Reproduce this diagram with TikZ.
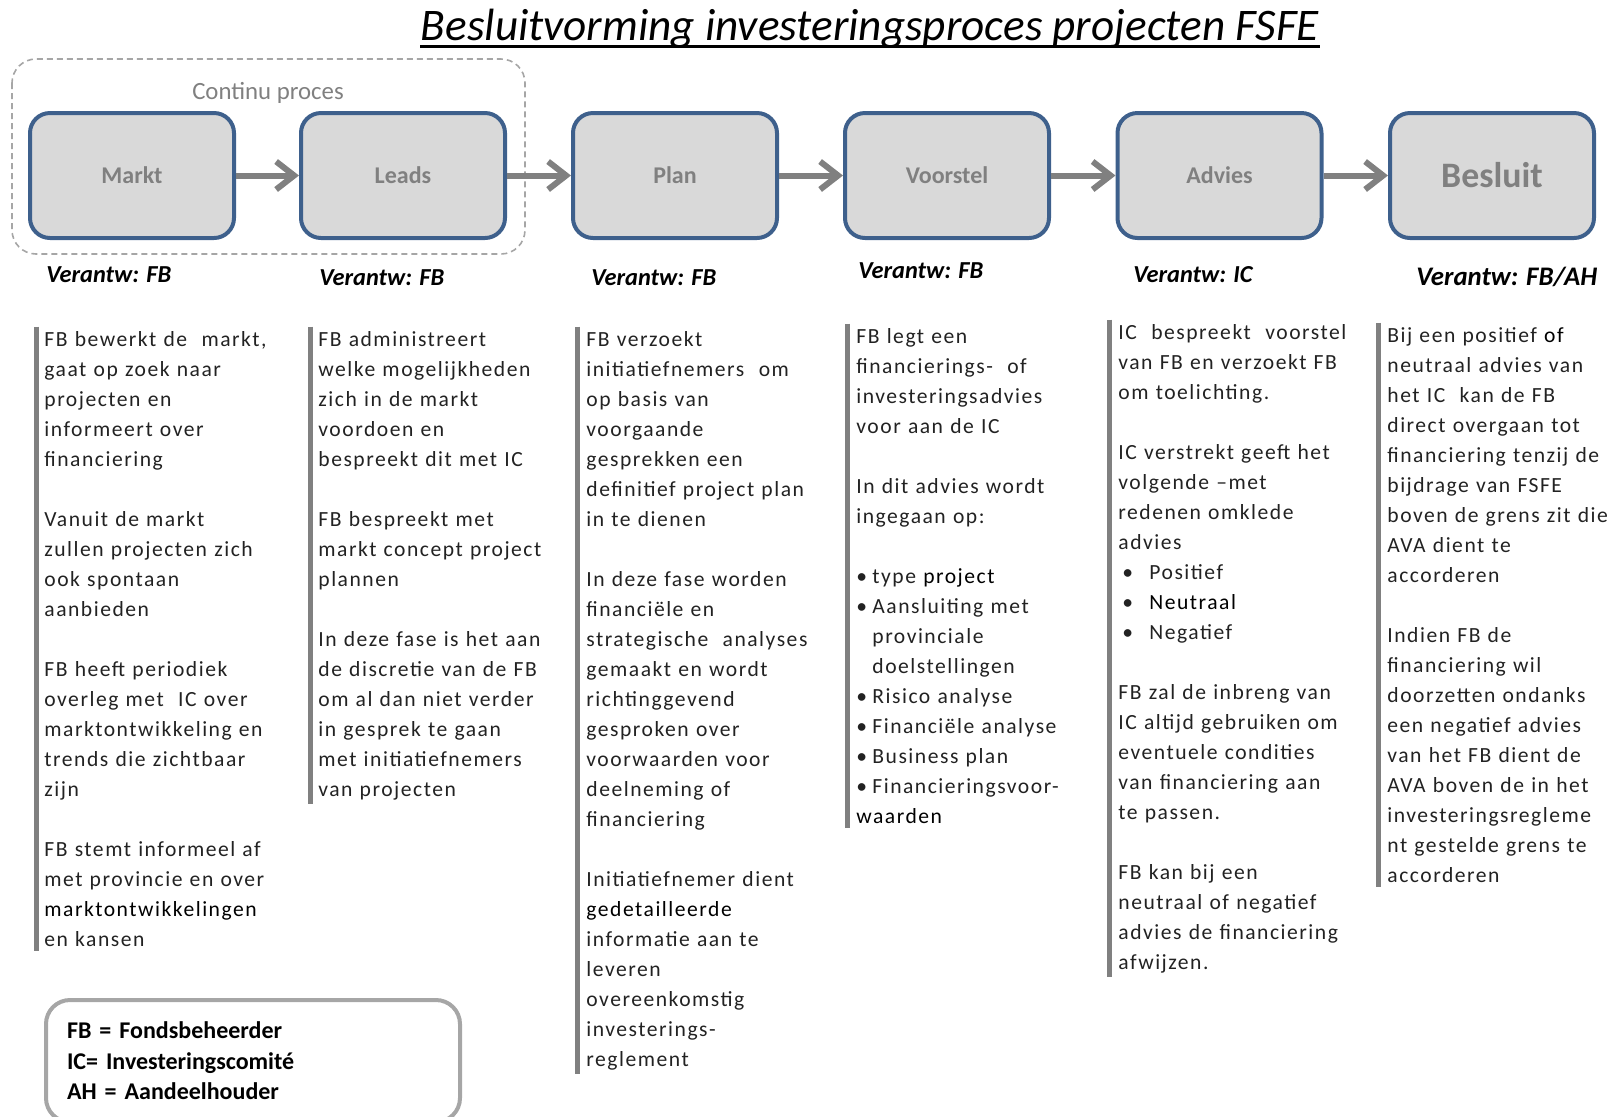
\documentclass[tikz,border=0pt]{standalone}
\usepackage{fontspec}
\setmainfont{Carlito}
\newfontfamily\bodyfont[LetterSpace=7]{Carlito}
\usetikzlibrary{arrows.meta}

\definecolor{boxfill}{RGB}{217,217,217}
\definecolor{boxline}{RGB}{62,96,140}
\definecolor{boxtext}{RGB}{128,128,128}
\definecolor{flowgray}{RGB}{128,128,128}
\definecolor{bodytext}{RGB}{34,34,34}
\definecolor{framegray}{RGB}{166,166,166}

\newcommand{\just}[1]{\makebox[116pt][s]{#1}}
\newcommand{\punt}{\makebox[8pt][l]{•}}
\newcommand{\puntw}{\hspace*{2pt}\makebox[13.5pt][l]{•}}

\begin{document}
\begin{tikzpicture}[x=0.5pt, y=-0.5pt,
  stage/.style={rectangle, draw=boxline, fill=boxfill, line width=2pt, rounded corners=10pt,
    minimum width=102pt, minimum height=62.5pt, text=boxtext, font=\fontsize{12}{14}\selectfont\bfseries},
  flow/.style={draw=flowgray, line width=3pt, -{Straight Barb[length=9pt,width=14pt]}},
  resp/.style={anchor=west, inner sep=0pt, font=\fontsize{12.2}{14}\selectfont\bfseries\itshape},
  column/.style={anchor=base west, inner sep=0pt, text width=126pt, align=left, text=bodytext,
    font=\bodyfont\fontsize{10.8}{15}\selectfont},
  bar/.style={draw=flowgray, line width=2.5pt}]

	\useasboundingbox (0,0) rectangle (1608,1116);
	\clip (0,0) rectangle (1608,1116);

	% title
	\node[anchor=base, inner sep=0pt, font=\fontsize{22.6}{26}\selectfont\itshape] (title) at (870,40) {Besluitvorming investeringsproces projecten FSFE};
	\draw[line width=1.5pt] ([yshift=-3pt]title.base west) -- ([yshift=-3pt]title.base east);

	% continu proces
	\draw[draw=framegray, line width=0.8pt, dash pattern=on 3pt off 2pt, rounded corners=12pt] (12,59) rectangle (525,254);
	\node[text=boxtext, font=\fontsize{12.4}{14}\selectfont] (continu) at (268,93) {Continu proces};

	% stages
	\node[stage] (markt) at (132,175.5) {Markt};
	\node[stage] (leads) at (403,175.5) {Leads};
	\node[stage] (plan) at (675,175.5) {Plan};
	\node[stage] (voorstel) at (947,175.5) {Voorstel};
	\node[stage] (advies) at (1219.5,175.5) {Advies};
	\node[stage, font=\fontsize{17.9}{20}\selectfont\bfseries] (besluit) at (1492,175.5) {Besluit};

	\draw[flow] (markt) -- (leads);
	\draw[flow] (leads) -- (plan);
	\draw[flow] (plan) -- (voorstel);
	\draw[flow] (voorstel) -- (advies);
	\draw[flow] (advies) -- (besluit);

	% verantwoordelijk
	\node[resp] (vmarkt) at (46,275) {Verantw: FB};
	\node[resp] (vleads) at (319,278) {Verantw: FB};
	\node[resp] (vplan) at (591,278) {Verantw: FB};
	\node[resp] (vvoorstel) at (858,271) {Verantw: FB};
	\node[resp] (vadvies) at (1133,275) {Verantw: IC};
	\node[resp, font=\fontsize{13.4}{16}\selectfont\bfseries\itshape] (vbesluit) at (1416,277) {Verantw: FB/AH};

	% kolommen
	\node[column] (tmarkt) at (44,346) {FB bewerkt de\ \ markt,\\gaat op zoek naar\\projecten en\\informeert over\\financiering\\[15pt]
		Vanuit de markt\\zullen projecten zich\\ook spontaan\\aanbieden\\[15pt]
		FB heeft periodiek\\overleg met\ \ IC over\\marktontwikkeling en\\trends die zichtbaar\\zijn\\[15pt]
		\just{FB stemt informeel af}\\\just{met provincie en over}\\\textcolor{black}{marktontwikkelingen}\\en kansen};

	\node[column] (tleads) at (318,346) {FB administreert\\welke mogelijkheden\\zich in de markt\\voordoen en\\bespreekt dit met IC\\[15pt]
		FB bespreekt met\\markt concept project\\plannen\\[15pt]
		\just{In deze fase is het aan}\\\just{de discretie van de FB}\\\just{om al dan niet verder}\\in gesprek te gaan\\met initiatiefnemers\\van projecten};

	\node[column] (tplan) at (586,346) {FB verzoekt\\initiatiefnemers\ \ om\\op basis van\\voorgaande\\gesprekken een\\definitief project plan\\in te dienen\\[15pt]
		In deze fase worden\\financiële en\\strategische\ \ analyses\\gemaakt en wordt\\richtinggevend\\gesproken over\\voorwaarden voor\\deelneming of\\financiering\\[15pt]
		Initiatiefnemer dient\\\textcolor{black}{gedetailleerde}\\informatie aan te\\leveren\\overeenkomstig\\investerings-\\reglement};

	\node[column] (tvoorstel) at (856,343) {FB legt een\\financierings-\ \ of\\investeringsadvies\\voor aan de IC\\[15pt]
		In dit advies wordt\\ingegaan op:\\[15pt]
		\punt type \textcolor{black}{project}\\\punt Aansluiting met\\\hspace*{8pt}provinciale\\\hspace*{8pt}doelstellingen\\
		\punt Risico analyse\\\punt Financiële analyse\\\punt Business plan\\\punt Financieringsvoor-\\\textcolor{black}{waarden}};

	\node[column] (tadvies) at (1118,339) {\just{IC\ \ bespreekt\ \ voorstel}\\\just{van FB en verzoekt FB}\\om toelichting.\\[15pt]
		IC verstrekt geeft het\\volgende –met\\redenen omklede\\advies\\\puntw Positief\\\puntw \textcolor{black}{Neutraal}\\\puntw Negatief\\[15pt]
		FB zal de inbreng van\\IC altijd gebruiken om\\eventuele condities\\van financiering aan\\te passen.\\[15pt]
		FB kan bij een\\neutraal of negatief\\advies de financiering\\afwijzen.};

	\node[column] (tbesluit) at (1387,342) {Bij een positief \textcolor{black}{of}\\neutraal advies van\\het IC\ \ kan de FB\\direct overgaan tot\\financiering tenzij de\\bijdrage van FSFE\\boven de grens zit die\\AVA dient te\\accorderen\\[15pt]
		Indien FB de\\financiering wil\\doorzetten ondanks\\een negatief advies\\van het FB dient de\\AVA boven de in het\\investeringsregleme\\nt gestelde grens te\\accorderen};

	% balken
	\draw[bar] ([xshift=-4pt,yshift=2pt]tmarkt.north west) -- ([xshift=-4pt,yshift=-2pt]tmarkt.south west);
	\draw[bar] ([xshift=-4pt,yshift=2pt]tleads.north west) -- ([xshift=-4pt,yshift=-2pt]tleads.south west);
	\draw[bar] ([xshift=-4.5pt,yshift=2pt]tplan.north west) -- ([xshift=-4.5pt,yshift=-2pt]tplan.south west);
	\draw[bar] ([xshift=-4.5pt,yshift=2pt]tvoorstel.north west) -- ([xshift=-4.5pt,yshift=-2pt]tvoorstel.south west);
	\draw[bar] ([xshift=-4.5pt,yshift=2pt]tadvies.north west) -- ([xshift=-4.5pt,yshift=-2pt]tadvies.south west);
	\draw[bar] ([xshift=-4.5pt,yshift=2pt]tbesluit.north west) -- ([xshift=-4.5pt,yshift=-2pt]tbesluit.south west);

	% legenda
	\node[draw=framegray, line width=2pt, rounded corners=12pt, anchor=north west, inner xsep=10.5pt, inner ysep=11pt,
		text width=186pt, align=left, font=\fontsize{12}{15.25}\selectfont\bfseries] (legenda) at (44,998)
		{FB = Fondsbeheerder\\IC= Investeringscomité\\AH = Aandeelhouder};
\end{tikzpicture}
\end{document}
